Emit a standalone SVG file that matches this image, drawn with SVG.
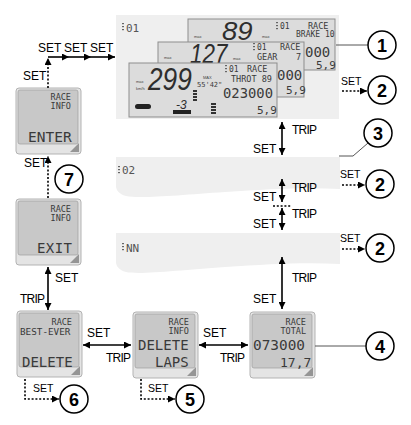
<svg xmlns="http://www.w3.org/2000/svg" width="411" height="425" viewBox="0 0 411 425">
<style>
.lbl{font-family:"Liberation Sans",Arial,sans-serif;font-size:12px;fill:#000}
.trip{letter-spacing:-0.8px}
.sm{font-size:10.5px}
.num{font-family:"Liberation Sans",Arial,sans-serif;font-size:18px;font-weight:bold;fill:#000;text-anchor:middle}
.circ{fill:#fff;stroke:#000;stroke-width:1.5}
.ln{fill:none;stroke:#000;stroke-width:1.6}
.dot{fill:none;stroke:#000;stroke-width:1.6;stroke-dasharray:2 1.8}
.lead{fill:none;stroke:#555;stroke-width:1}
.panel{fill:#efefef}
.bez{fill:#e4e4e4;stroke:#b3b3b3;stroke-width:1}
.scr{fill:#c8c8c8;stroke:#9d9d9d;stroke-width:0.7}
.tri{fill:#959595}
.lcd{font-family:"DejaVu Sans Mono","Liberation Mono",monospace;fill:#3a3a3a}
.big{font-family:"Liberation Sans",Arial,sans-serif;font-style:italic;fill:#2e2e2e}
.tiny{font-family:"Liberation Sans",Arial,sans-serif;font-size:4px;fill:#444}
.top{fill:#dcdcdc;stroke:#8d8d8d;stroke-width:1}
.lap{font-family:"DejaVu Sans Mono","Liberation Mono",monospace;font-size:11px;fill:#555}
</style>
<defs>
<marker id="ah" viewBox="0 0 10 10" refX="10" refY="5" markerWidth="8" markerHeight="7" markerUnits="userSpaceOnUse" orient="auto-start-reverse">
<path d="M0,0 L10,5 L0,10 Z" fill="#000"/>
</marker>
<g id="lapicon"><rect x="0" y="0" width="2" height="1.2" fill="#666"/><rect x="0" y="3" width="2" height="1.2" fill="#666"/><rect x="0" y="6" width="2" height="1.2" fill="#666"/></g>
</defs>

<!-- LAP panels -->
<g id="panel-lap01">
<rect class="panel" x="116" y="15" width="223" height="104"/>
<use href="#lapicon" x="122" y="23"/>
<text class="lap" x="126" y="32">01</text>
</g>
<g id="panel-lap02">
<path class="panel" d="M116,157 H340 V189 C305,187 270,189 225,192 C180,195 140,199 126,196 C119,194 116,190 116,186 Z"/>
<use href="#lapicon" x="118" y="166"/>
<text class="lap" x="122" y="174">02</text>
</g>
<g id="panel-lapNN">
<path class="panel" d="M116,233 H340 V264 C305,262 270,264 225,267 C180,270 140,275 126,272 C119,270 116,266 116,262 Z"/>
<use href="#lapicon" x="122" y="243"/>
<text class="lap" x="126" y="252">NN</text>
</g>

<!-- Top LCD stack -->
<g id="lcd-back">
<rect class="top" x="188" y="19" width="147" height="51"/>
<text class="tiny" x="194" y="38">max</text>
<text class="big" font-size="25" transform="translate(222,40) scale(1.1,1)">89</text>
<text class="tiny" x="262" y="38">max</text>
<use href="#lapicon" x="276" y="22"/>
<text class="lcd" x="280" y="29" font-size="8">01</text>
<text class="lcd" x="308" y="29" font-size="8.5">RACE</text>
<text class="lcd" x="296" y="37" font-size="8">BRAKE 10</text>
<text class="lcd" x="305" y="57" font-size="14">000</text>
<text class="lcd" x="316" y="69" font-size="11">5,9</text>
</g>
<g id="lcd-middle">
<rect class="top" x="158" y="42" width="146" height="55"/>
<text class="tiny" x="164" y="59">max</text>
<text class="big" font-size="28" transform="translate(190,63) scale(0.8,1)">127</text>
<text class="tiny" x="233" y="60">max</text>
<use href="#lapicon" x="253" y="43"/>
<text class="lcd" x="257" y="50" font-size="8">01</text>
<text class="lcd" x="280" y="50" font-size="8.5">RACE</text>
<text class="lcd" x="257" y="60" font-size="8.5">GEAR</text>
<text class="lcd" x="296" y="60" font-size="8.5">7</text>
<text class="lcd" x="277" y="80" font-size="14">000</text>
<text class="lcd" x="286" y="94" font-size="11">5,9</text>
</g>
<g id="lcd-front">
<rect class="top" x="129" y="63" width="148" height="54"/>
<text class="tiny" x="136" y="83">max</text>
<text class="tiny" x="136" y="90">km/h</text>
<text class="big" font-size="32" transform="translate(148,90) scale(0.82,1)">299</text>
<text class="tiny" x="203" y="79">MAX</text>
<text class="lcd" x="197" y="87" font-size="7">55'42"</text>
<use href="#lapicon" x="225" y="65"/>
<text class="lcd" x="229" y="72" font-size="8">01</text>
<text class="lcd" x="247" y="72" font-size="8.5">RACE</text>
<text class="lcd" x="231" y="82" font-size="8.5">THROT 89</text>
<text class="lcd" x="223" y="98" font-size="14" textLength="50" lengthAdjust="spacingAndGlyphs">023000</text>
<text class="lcd" x="257" y="114" font-size="11">5,9</text>
<text class="big" x="176" y="109" font-size="12">-3</text>
<rect x="173" y="110" width="18" height="4" fill="#222"/>
<rect x="193" y="90" width="4" height="2" fill="#333"/><rect x="193" y="93" width="4" height="2" fill="#333"/><rect x="193" y="96" width="4" height="2" fill="#333"/><rect x="193" y="99" width="4" height="2" fill="#333"/>
<rect x="211" y="103" width="5" height="2" fill="#333"/><rect x="211" y="106" width="5" height="2" fill="#333"/><rect x="211" y="109" width="5" height="2" fill="#333"/><rect x="211" y="112" width="5" height="2" fill="#333"/>
<rect x="135" y="104" width="16" height="5" rx="2.5" fill="#222"/>
</g>

<!-- small screens -->
<g id="scr-enter">
<rect class="bez" x="16" y="88" width="65" height="66" rx="3"/>
<rect class="scr" x="18" y="90" width="60" height="54" rx="2"/>
<path class="tri" d="M79,143 L79,152 L70,152 Z"/>
<text class="lcd" x="71" y="100" font-size="8.5" text-anchor="end">RACE</text>
<text class="lcd" x="71" y="109" font-size="8.5" text-anchor="end">INFO</text>
<text class="lcd" x="28" y="142" font-size="14.5">ENTER</text>
</g>
<g id="scr-exit">
<rect class="bez" x="16" y="199" width="65" height="66" rx="3"/>
<rect class="scr" x="18" y="201" width="60" height="54" rx="2"/>
<path class="tri" d="M79,254 L79,263 L70,263 Z"/>
<text class="lcd" x="71" y="212" font-size="8.5" text-anchor="end">RACE</text>
<text class="lcd" x="71" y="221" font-size="8.5" text-anchor="end">INFO</text>
<text class="lcd" x="37" y="253" font-size="14" letter-spacing="0.4">EXIT</text>
</g>
<g id="scr-bestever">
<rect class="bez" x="17" y="311" width="65" height="66" rx="3"/>
<rect class="scr" x="19" y="313" width="60" height="54" rx="2"/>
<path class="tri" d="M80,366 L80,375 L71,375 Z"/>
<text class="lcd" x="72" y="325" font-size="8.5" text-anchor="end">RACE</text>
<text class="lcd" x="20" y="335" font-size="9.3">BEST-EVER</text>
<text class="lcd" x="22" y="367" font-size="14">DELETE</text>
</g>
<g id="scr-deletelaps">
<rect class="bez" x="133" y="312" width="65" height="66" rx="3"/>
<rect class="scr" x="135" y="314" width="60" height="54" rx="2"/>
<path class="tri" d="M196,367 L196,376 L187,376 Z"/>
<text class="lcd" x="189" y="325" font-size="8.5" text-anchor="end">RACE</text>
<text class="lcd" x="189" y="334" font-size="8.5" text-anchor="end">INFO</text>
<text class="lcd" x="138" y="350" font-size="14">DELETE</text>
<text class="lcd" x="155" y="367" font-size="14">LAPS</text>
</g>
<g id="scr-total">
<rect class="bez" x="250" y="312" width="65" height="66" rx="3"/>
<rect class="scr" x="252" y="314" width="60" height="54" rx="2"/>
<path class="tri" d="M313,367 L313,376 L304,376 Z"/>
<text class="lcd" x="306" y="325" font-size="8.5" text-anchor="end">RACE</text>
<text class="lcd" x="306" y="334" font-size="8.5" text-anchor="end">TOTAL</text>
<text class="lcd" x="253" y="350" font-size="14" textLength="52" lengthAdjust="spacingAndGlyphs">073000</text>
<text class="lcd" x="280" y="367" font-size="13">17,7</text>
</g>

<!-- connectors -->
<g id="connectors">
<path class="dot" d="M48,88 V58" marker-end="url(#ah)"/>
<path class="ln" d="M48,57 H69" marker-end="url(#ah)"/>
<path class="ln" d="M69,57 H91" marker-end="url(#ah)"/>
<path class="ln" d="M91,57 H115" marker-end="url(#ah)"/>
<path class="ln" d="M282,122 V155" marker-start="url(#ah)" marker-end="url(#ah)"/>
<path class="ln" d="M282,179 V202" marker-start="url(#ah)" marker-end="url(#ah)"/>
<path class="dot" d="M273,206 H291"/>
<path class="ln" d="M282,208 V230" marker-start="url(#ah)" marker-end="url(#ah)"/>
<path class="ln" d="M282,257 V309" marker-start="url(#ah)" marker-end="url(#ah)"/>
<path class="ln" d="M199,345 H248" marker-start="url(#ah)" marker-end="url(#ah)"/>
<path class="ln" d="M83,345 H131" marker-start="url(#ah)" marker-end="url(#ah)"/>
<path class="ln" d="M48,267 V310" marker-start="url(#ah)" marker-end="url(#ah)"/>
<path class="dot" d="M48,198 V156" marker-end="url(#ah)"/>
<path class="dot" d="M25,379 V399 H59" marker-end="url(#ah)"/>
<path class="dot" d="M141,379 V399 H175" marker-end="url(#ah)"/>
<path class="dot" d="M342,91 H367" marker-end="url(#ah)"/>
<path class="dot" d="M342,185 H365" marker-end="url(#ah)"/>
<path class="dot" d="M342,249 H365" marker-end="url(#ah)"/>
<path class="lead" d="M336,45 H368"/>
<path class="lead" d="M315,346 H366"/>
<path class="lead" d="M368,143 L353,156 H339"/>

<text class="lbl" x="23" y="80">SET</text>
<text class="lbl" x="38" y="52">SET</text>
<text class="lbl" x="64" y="52">SET</text>
<text class="lbl" x="90" y="52">SET</text>
<text class="lbl trip" x="292" y="134">TRIP</text>
<text class="lbl" x="253" y="153">SET</text>
<text class="lbl trip" x="292" y="192">TRIP</text>
<text class="lbl" x="253" y="201">SET</text>
<text class="lbl trip" x="292" y="218">TRIP</text>
<text class="lbl" x="253" y="228">SET</text>
<text class="lbl trip" x="292" y="282">TRIP</text>
<text class="lbl" x="253" y="303">SET</text>
<text class="lbl" x="203" y="337">SET</text>
<text class="lbl trip" x="220" y="362">TRIP</text>
<text class="lbl" x="87" y="337">SET</text>
<text class="lbl trip" x="106" y="362">TRIP</text>
<text class="lbl" x="24" y="167">SET</text>
<text class="lbl" x="55" y="282">SET</text>
<text class="lbl trip" x="20" y="303">TRIP</text>
<text class="lbl sm" x="33" y="392">SET</text>
<text class="lbl sm" x="148" y="392">SET</text>
<text class="lbl sm" x="341" y="85">SET</text>
<text class="lbl sm" x="340" y="178">SET</text>
<text class="lbl sm" x="340" y="242">SET</text>
</g>

<!-- callouts -->
<g id="callout-1"><circle class="circ" cx="382" cy="45" r="14"/><text class="num" x="382" y="51.5">1</text></g>
<g id="callout-2a"><circle class="circ" cx="382" cy="90" r="14"/><text class="num" x="382" y="96.5">2</text></g>
<g id="callout-3"><circle class="circ" cx="378" cy="133" r="14"/><text class="num" x="378" y="139.5">3</text></g>
<g id="callout-2b"><circle class="circ" cx="380" cy="184" r="14"/><text class="num" x="380" y="190.5">2</text></g>
<g id="callout-2c"><circle class="circ" cx="380" cy="248" r="14"/><text class="num" x="380" y="254.5">2</text></g>
<g id="callout-4"><circle class="circ" cx="380" cy="346" r="14"/><text class="num" x="380" y="352.5">4</text></g>
<g id="callout-5"><circle class="circ" cx="190" cy="399" r="14"/><text class="num" x="190" y="405.5">5</text></g>
<g id="callout-6"><circle class="circ" cx="74" cy="399" r="14"/><text class="num" x="74" y="405.5">6</text></g>
<g id="callout-7"><circle class="circ" cx="69" cy="179" r="14"/><text class="num" x="69" y="185.5">7</text></g>
</svg>
